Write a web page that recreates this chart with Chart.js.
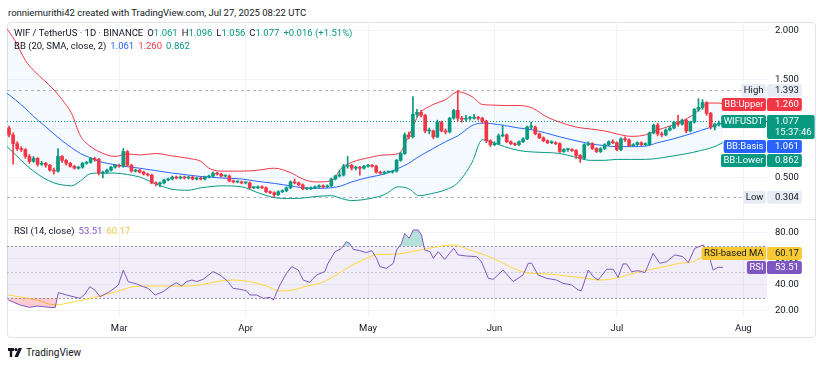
<!DOCTYPE html>
<html>
<head>
<meta charset="utf-8">
<script src="https://cdn.jsdelivr.net/npm/chart.js@4.4.1/dist/chart.umd.min.js"></script>
<style>
    body { margin: 0; background: #fff; width: 825px; height: 366px; overflow: hidden; position: relative;
           font-family: Roboto, sans-serif; color: #131722; }
    .txt { position: absolute; white-space: nowrap; font-size: 9.5px; line-height: 13px; z-index: 5; }
    .txt span { margin-left: 4px; }
    .txt b { font-weight: normal; }
    .box { position: absolute; }
    #frame { position: absolute; left: 7px; top: 22px; width: 809px; height: 316px; box-sizing: border-box;
             border: 1px solid #e0e3eb; border-radius: 4px; }
    #sep { position: absolute; left: 7px; top: 219px; width: 809px; height: 1px; background: #e0e3eb; }
    .g { color: #089981; } .r { color: #F23645; } .b { color: #2962FF; } .p { color: #7E57C2; } .y { color: #f2c94c; }
</style>
</head>
<body>
<div class="txt" style="left:8px;top:6px;">ronniemurithi42 created with TradingView.com, Jul 27, 2025 08:22 UTC</div>
<div id="frame"></div>
<div class="box" style="left:7px;top:22px;width:809px;height:196px;"><canvas id="price-chart"></canvas></div>
<div id="sep"></div>
<div class="box" style="left:7px;top:220px;width:809px;height:118px;"><canvas id="rsi-chart"></canvas></div>
<div class="txt" style="left:14px;top:26px;">WIF / TetherUS · 1D · BINANCE<span>O<b class="g">1.061</b></span><span>H<b class="g">1.096</b></span><span>L<b class="g">1.056</b></span><span>C<b class="g">1.077</b></span><span class="g">+0.016 (+1.51%)</span></div>
<div class="txt" style="left:14px;top:39px;">BB (20, SMA, close, 2)<span class="b">1.061</span><span class="r">1.260</span><span class="g">0.862</span></div>
<div class="txt" style="left:14px;top:224px;">RSI (14, close)<span class="p">53.51</span><span class="y">60.17</span></div>
<div class="txt" style="left:8px;top:346px;font-size:10px;">
    <svg width="15" height="9" style="vertical-align:-1px;margin-right:3px;"><path d="M0 0h6v3H4.2v6H1.8V3H0z" fill="#131722"/><circle cx="8" cy="1.6" r="1.6" fill="#131722"/><path d="M10.5 0h3.5l-4 9H6.5z" fill="#131722"/></svg>TradingView
</div>
<script>
// Daily candles, day 1 = Feb 2 2025 (day 0 = Feb 1)
const firstDay = 1;
const opens = [
    1.01,0.94,0.85,0.80,0.79,0.72,0.67,0.70,0.64,0.65, 0.63,0.58,0.57,0.72,0.68,0.65,0.62,0.60,0.61,0.65,
    0.66,0.70,0.69,0.55,0.56,0.58,0.61,0.63,0.62,0.77, 0.63,0.57,0.58,0.56,0.54,0.53,0.45,0.44,0.45,0.48,
    0.49,0.51,0.50,0.51,0.50,0.51,0.49,0.50,0.49,0.51, 0.52,0.55,0.54,0.52,0.52,0.47,0.46,0.46,0.45,0.45,
    0.40,0.40,0.41,0.40,0.36,0.35,0.33,0.36,0.37,0.40, 0.46,0.45,0.43,0.39,0.39,0.40,0.41,0.42,0.41,0.42,
    0.49,0.52,0.53,0.62,0.63,0.60,0.61,0.60,0.62,0.63, 0.62,0.56,0.55,0.56,0.56,0.57,0.68,0.75,0.94,0.92,
    1.15,1.17,1.14,0.98,0.98,0.92,1.07,0.98,0.97,1.11, 1.19,1.11,1.10,1.11,1.11,1.12,1.11,1.08,0.88,0.84,
    0.85,0.93,0.94,0.87,0.85,0.84,0.87,0.90,1.02,1.02, 0.95,0.91,0.88,0.86,0.86,0.85,0.77,0.79,0.79,0.78,
    0.73,0.70,0.84,0.85,0.80,0.77,0.80,0.84,0.87,0.86, 0.79,0.90,0.89,0.83,0.84,0.86,0.84,0.84,0.96,1.04,
    0.95,0.94,0.99,1.01,1.07,1.05,1.09,0.98,1.07,1.20, 1.22,1.27,1.16,1.02,1.05,1.061
];
const highs = [
    1.03,0.96,0.87,0.82,0.80,0.74,0.72,0.71,0.67,0.66, 0.64,0.60,0.80,0.73,0.69,0.66,0.63,0.62,0.66,0.67,
    0.71,0.71,0.70,0.57,0.59,0.62,0.64,0.64,0.80,0.78, 0.64,0.59,0.59,0.57,0.55,0.54,0.46,0.46,0.49,0.50,
    0.52,0.52,0.52,0.52,0.52,0.52,0.51,0.51,0.52,0.53, 0.56,0.56,0.55,0.53,0.53,0.48,0.47,0.47,0.46,0.46,
    0.41,0.42,0.42,0.41,0.37,0.36,0.37,0.38,0.41,0.47, 0.49,0.46,0.44,0.40,0.41,0.42,0.43,0.43,0.43,0.50,
    0.53,0.58,0.64,0.72,0.64,0.62,0.62,0.63,0.64,0.64, 0.63,0.57,0.57,0.57,0.58,0.69,0.76,0.96,0.97,1.33,
    1.20,1.19,1.15,1.01,0.99,1.09,1.08,1.00,1.12,1.20, 1.393,1.13,1.14,1.13,1.15,1.13,1.12,1.09,0.89,0.87,
    0.95,1.04,0.95,0.88,0.86,0.88,0.91,1.03,1.07,1.03, 0.96,0.92,0.89,0.88,0.87,0.86,0.80,0.80,0.80,0.79,
    0.74,0.85,0.87,0.86,0.81,0.81,0.85,0.88,0.89,0.87, 0.91,0.92,0.90,0.85,0.87,0.87,0.86,0.97,1.05,1.06,
    0.97,1.00,1.03,1.08,1.14,1.10,1.10,1.08,1.21,1.31, 1.30,1.28,1.17,1.06,1.08,1.096
];
const lows = [
    0.92,0.64,0.78,0.77,0.70,0.65,0.66,0.62,0.63,0.61, 0.57,0.54,0.56,0.66,0.63,0.61,0.59,0.59,0.60,0.64,
    0.65,0.67,0.53,0.50,0.55,0.57,0.60,0.61,0.61,0.62, 0.56,0.56,0.55,0.53,0.52,0.44,0.42,0.41,0.44,0.47,
    0.48,0.49,0.49,0.49,0.49,0.48,0.48,0.48,0.48,0.50, 0.51,0.53,0.51,0.51,0.46,0.45,0.45,0.44,0.44,0.39,
    0.39,0.39,0.39,0.35,0.34,0.304,0.32,0.35,0.36,0.39, 0.44,0.42,0.38,0.38,0.38,0.39,0.40,0.40,0.40,0.41,
    0.48,0.51,0.52,0.60,0.58,0.58,0.53,0.59,0.61,0.61, 0.55,0.54,0.54,0.55,0.55,0.56,0.67,0.74,0.90,0.91,
    1.12,1.12,0.96,0.95,0.90,0.91,0.97,0.95,0.96,1.10, 1.08,1.07,1.08,1.09,1.10,1.09,1.06,0.86,0.82,0.83,
    0.84,0.92,0.86,0.84,0.83,0.83,0.86,0.89,1.00,0.94, 0.90,0.87,0.85,0.85,0.84,0.76,0.76,0.77,0.77,0.70,
    0.66,0.69,0.83,0.79,0.76,0.76,0.79,0.83,0.85,0.78, 0.78,0.87,0.82,0.82,0.83,0.83,0.83,0.83,0.95,0.93,
    0.92,0.93,0.98,1.00,1.03,1.04,0.96,0.97,1.06,1.18, 1.20,1.14,1.00,0.99,1.03,1.056
];
const closes = [
    0.94,0.85,0.80,0.79,0.72,0.67,0.70,0.64,0.65,0.63, 0.58,0.57,0.72,0.68,0.65,0.62,0.60,0.61,0.65,0.66,
    0.70,0.69,0.55,0.56,0.58,0.61,0.63,0.62,0.77,0.63, 0.57,0.58,0.56,0.54,0.53,0.45,0.44,0.45,0.48,0.49,
    0.51,0.50,0.51,0.50,0.51,0.49,0.50,0.49,0.51,0.52, 0.55,0.54,0.52,0.52,0.47,0.46,0.46,0.45,0.45,0.40,
    0.40,0.41,0.40,0.36,0.35,0.33,0.36,0.37,0.40,0.46, 0.45,0.43,0.39,0.39,0.40,0.41,0.42,0.41,0.42,0.49,
    0.52,0.53,0.62,0.63,0.60,0.61,0.60,0.62,0.63,0.62, 0.56,0.55,0.56,0.56,0.57,0.68,0.75,0.94,0.92,1.15,
    1.17,1.14,0.98,0.98,0.92,1.07,0.98,0.97,1.11,1.19, 1.11,1.10,1.11,1.11,1.12,1.11,1.08,0.88,0.84,0.85,
    0.93,0.94,0.87,0.85,0.84,0.87,0.90,1.02,1.02,0.95, 0.91,0.88,0.86,0.86,0.85,0.77,0.79,0.79,0.78,0.73,
    0.70,0.84,0.85,0.80,0.77,0.80,0.84,0.87,0.86,0.79, 0.90,0.89,0.83,0.84,0.86,0.84,0.84,0.96,1.04,0.95,
    0.94,0.99,1.01,1.07,1.05,1.09,0.98,1.07,1.20,1.22, 1.27,1.16,1.02,1.05,1.061,1.077
];

// Bollinger bands (20, 2)
const bbDays = [0,2.5,5,7,9.5,12,14,16.3,18.5,20.7, 23,27,30,33,37,41,45,48,50,53, 58,62,66,70,73,76,80,82.5,85,89.5,
    93,96.5,99,101.5,104.5,108,111,114.5,117,119, 122.5,126,129.5,132.5,136,140,143.5,147,150,153.5, 157,160,163,166,168.5,170.5,172.5,174.5,176];
const bbUpper = [2.05,1.90,1.70,1.60,1.50,1.40,1.30,1.16,0.93,0.83, 0.77,0.72,0.745,0.735,0.75,0.725,0.70,0.67,0.60,0.57,
    0.57,0.58,0.60,0.555,0.49,0.46,0.47,0.60,0.66,0.71, 0.735,0.75,0.93,1.15,1.24,1.30,1.38,1.33,1.25,1.245,
    1.24,1.24,1.21,1.13,1.07,1.02,1.00,0.98,0.95,0.925, 0.94,0.99,1.03,1.08,1.14,1.21,1.265,1.265,1.26];
const bbBasis = [1.38,1.30,1.21,1.13,1.04,0.95,0.88,0.81,0.75,0.71, 0.67,0.635,0.615,0.60,0.575,0.55,0.53,0.515,0.51,0.50,
    0.49,0.465,0.445,0.42,0.40,0.395,0.40,0.42,0.46,0.51, 0.54,0.60,0.65,0.72,0.79,0.87,0.93,1.035,1.06,1.055,
    1.035,1.01,0.99,0.96,0.92,0.88,0.85,0.83,0.82,0.82, 0.825,0.86,0.89,0.925,0.955,0.985,1.01,1.04,1.061];
const bbLower = [0.84,0.74,0.64,0.57,0.50,0.45,0.43,0.42,0.47,0.54, 0.55,0.55,0.535,0.51,0.44,0.385,0.375,0.40,0.41,0.42,
    0.41,0.35,0.30,0.29,0.295,0.31,0.32,0.29,0.27,0.29, 0.33,0.41,0.39,0.32,0.34,0.38,0.45,0.66,0.89,0.87,
    0.82,0.78,0.765,0.76,0.75,0.71,0.68,0.68,0.69,0.69, 0.69,0.70,0.72,0.74,0.76,0.78,0.80,0.83,0.862];

// RSI (14) and its moving average
const rsiDays = [0.8,3.7,6.1,7.8,9.4,11,12.3,13.1,15.1,18.4, 19.6,20.8,22,23.3,25.7,27.8,29,30.2,32.3,33.9,
    35.1,36.8,38.8,40.4,42,43.3,44.5,45.8,47,48.6, 51,52.7,54.7,55.9,57.6,59.2,60,61.7,63.3,65,
    65.8,67.4,69,70.3,71.9,73.1,74.7,76.4,78.4,79.2, 80.9,82.5,83.7,84.5,85.4,87,88.6,89.9,91.1,91.9,
    93.5,95.2,96,97.2,98,99.1,100.1,101.3,102.1,102.9, 104.2,105,106.2,107.8,109,110,111.1,113.1,115.6,116.8,
    118.5,119.7,122.1,124.6,127,128.3,129.1,130.7,132.8,135.2, 136.8,138.9,140.5,141.3,143,144.2,145.4,147.5,149.1,150.3,
    151.5,152.4,153.6,155.2,156.9,158.9,160.5,162.2,164.2,166.2, 167.5,169.1,171.2,172.4,173.6,174.8,176];
const rsiValues = [28.5,24.6,22.8,23.8,23.3,22.8,22.6,34.1,32.3,29.7, 33,38.7,36.2,31,34.9,40,51.5,42.6,40.8,38.7,
    37.4,32.3,34.9,38.7,41.8,39.2,42.6,43.8,42.6,44.4, 50.3,47.7,42.6,37.4,36.7,35.6,32.3,32.3,29.7,30.5,
    28.5,40,49,54.1,51.5,43.8,42.1,47.7,50.3,56.7, 65.6,68.2,73.3,72,67.4,66.4,64.9,66.4,60.5,54.1,
    52.8,56.7,66.9,72,79.7,75.9,82.3,82.3,78.5,66.9, 65.6,60.5,65.6,59.7,64.4,68.2,63.1,62.3,61.8,57.9,
    45.1,44.4,51.5,42.6,47.7,56.7,56.7,47.7,45.1,43.8, 41.3,40,36.2,35.6,51.5,46.4,43.8,52.1,52.1,45.9,
    56.2,56.2,50.3,51,49.5,64.4,56.7,57.9,63.1,61.8, 57.2,68.2,70.8,64.4,51.5,53.6,53.51];
const rsiMaDays = [0.8,7.8,12.3,15.1,19.2,23.3,27.4,31.5,35.5,43.7, 47.8,51.9,55.9,60,64.1,67.4,70.7,74,77.2,80.5,
    84.5,88.6,91.5,95.2,101.7,109.9,114,119.7,123.8,127.8, 132.8,137.7,142.6,145.8,150.7,155.6,160.5,165.4,168.7,172,176];
const rsiMaValues = [32.3,28.5,24.6,25.9,28.5,31.5,34.9,38.7,39.2,39.2, 40,42.6,43.8,42.6,39.2,35.4,36.2,39.2,41.3,46.4,
    54.1,60.5,63.6,63.6,66.9,70.8,66.9,60.5,54.1,49.5, 48.5,46.9,45.1,43.8,45.9,50.3,53.3,56.7,57.9,62.3,60.17];
const rsiLevels = [70, 50, 30];

// Axis ticks
const monthTicks = [28, 59, 89, 120, 150, 181];
const monthLabels = ['Mar', 'Apr', 'May', 'Jun', 'Jul', 'Aug'];
const priceTicks = [0.5, 1.0, 1.5, 2.0];
const rsiTicks = [20, 40, 60, 80];

// Price scale tags
const priceTagNames = ['High', 'BB:Upper', 'WIFUSDT', 'BB:Basis', 'BB:Lower', 'Low'];
const priceTagValues = [1.393, 1.260, 1.077, 1.061, 0.862, 0.304];
const countdown = '15:37:46';
const rsiTagNames = ['RSI-based MA', 'RSI'];
const rsiTagValues = [60.17, 53.51];

const UP = '#089981', DOWN = '#F23645', BLUE = '#2962FF', PURPLE = '#7E57C2', YELLOW = '#FDD835';
const GRID = '#f0f3fa';
const FONT = '9.5px Roboto, sans-serif';
const AXIS_W = 49;
const xMin = 0.5, xMax = 186.8;

Chart.defaults.font.family = 'Roboto, sans-serif';
Chart.defaults.font.size = 9.5;
Chart.defaults.color = '#131722';

function roundBox(ctx, x, y, w, h) {
    ctx.beginPath();
    ctx.roundRect(x, y, w, h, 2);
    ctx.fill();
}

// Horizontal level lines and the RSI background band
const levelPlugin = {
    id: 'levels',
    beforeDatasetsDraw(chart, args, opts) {
        let {ctx, chartArea: area, scales: {y}} = chart;
        ctx.save();
        if (opts.band) {
            let y1 = y.getPixelForValue(opts.band[0]), y2 = y.getPixelForValue(opts.band[1]);
            ctx.fillStyle = opts.bandColor;
            ctx.fillRect(area.left, y1, area.width, y2 - y1);
        }
        opts.lines.forEach(line => {
            let py = Math.round(y.getPixelForValue(line.value)) + 0.5;
            ctx.strokeStyle = line.color;
            ctx.lineWidth = 1;
            ctx.setLineDash(line.dash);
            ctx.beginPath();
            ctx.moveTo(area.left, py);
            ctx.lineTo(area.right, py);
            ctx.stroke();
        });
        ctx.restore();
    }
};

// Coloured name/value tags on the price scale, pushed apart when they collide
const tagPlugin = {
    id: 'valueTags',
    afterDraw(chart, args, opts) {
        let {ctx, chartArea: area, scales: {y}} = chart;
        ctx.save();
        ctx.font = FONT;
        ctx.textBaseline = 'middle';
        let tags = opts.names.map((name, i) => ({
            name,
            style: opts.styles[i],
            text: opts.values[i].toFixed(opts.decimals),
            h: opts.styles[i].sub ? 24 : 13,
            top: y.getPixelForValue(opts.values[i]) - 6.5
        }));
        if (opts.push === 'down') {
            tags.sort((a, b) => a.top - b.top);
            for (let i = 1; i < tags.length; i++)
                tags[i].top = Math.max(tags[i].top, tags[i - 1].top + tags[i - 1].h + 1);
        } else {
            tags.sort((a, b) => b.top - a.top);
            for (let i = 1; i < tags.length; i++)
                tags[i].top = Math.min(tags[i].top, tags[i - 1].top - tags[i].h - 1);
        }
        tags.forEach(t => {
            let sub = t.style.sub ? opts.sub : null;
            let vw = Math.max(ctx.measureText(t.text).width, sub ? ctx.measureText(sub).width : 0) + 11;
            let nw = ctx.measureText(t.name).width + 5;
            ctx.fillStyle = t.style.bg;
            roundBox(ctx, area.right, t.top, vw, t.h);
            roundBox(ctx, area.right - 1 - nw, t.top, nw, 13);
            ctx.fillStyle = t.style.fg;
            ctx.textAlign = 'left';
            ctx.fillText(t.text, area.right + 8, t.top + 7);
            if (sub) ctx.fillText(sub, area.right + 8, t.top + 18);
            ctx.textAlign = 'center';
            ctx.fillText(t.name, area.right - 1 - nw / 2, t.top + 7);
        });
        ctx.restore();
    }
};

function timeAxis(showLabels) {
    return {
        type: 'linear',
        min: xMin,
        max: xMax,
        offset: false,
        afterBuildTicks: scale => { scale.ticks = monthTicks.map(v => ({value: v})); },
        afterFit: scale => {
            scale.height = showLabels ? 20 : 0;
            scale.paddingLeft = 0;
            scale.paddingRight = 0;
        },
        grid: {color: GRID, drawTicks: false, offset: false},
        border: {display: false},
        ticks: {
            display: showLabels,
            padding: 5,
            maxRotation: 0,
            callback: (value, index) => monthLabels[index]
        }
    };
}

function valueAxis(min, max, ticks, decimals) {
    return {
        position: 'right',
        min: min,
        max: max,
        afterBuildTicks: scale => { scale.ticks = ticks.map(v => ({value: v})); },
        afterFit: scale => {
            scale.width = AXIS_W;
            scale.paddingTop = 0;
            scale.paddingBottom = 0;
        },
        grid: {color: GRID, drawTicks: false},
        border: {display: false},
        ticks: {padding: 8, callback: value => value.toFixed(decimals)}
    };
}

let candleColors = closes.map((c, i) => c >= opens[i] ? UP : DOWN);
let points = (days, values) => values.map((v, i) => ({x: days[i], y: v}));

new Chart(document.getElementById('price-chart'), {
    type: 'bar',
    data: {
        datasets: [{
            label: 'body',
            data: opens.map((o, i) => ({x: firstDay + i, y: [o, closes[i]]})),
            backgroundColor: candleColors,
            barThickness: 3,
            minBarLength: 1,
            grouped: false,
            order: 0
        }, {
            label: 'wick',
            data: lows.map((l, i) => ({x: firstDay + i, y: [l, highs[i]]})),
            backgroundColor: candleColors,
            barThickness: 1,
            grouped: false,
            order: 1
        }, {
            type: 'line',
            label: 'BB Upper',
            data: points(bbDays, bbUpper),
            borderColor: DOWN,
            borderWidth: 1,
            backgroundColor: 'rgba(33,150,243,0.05)',
            fill: '+2',
            pointRadius: 0,
            cubicInterpolationMode: 'monotone',
            order: 2
        }, {
            type: 'line',
            label: 'BB Basis',
            data: points(bbDays, bbBasis),
            borderColor: BLUE,
            borderWidth: 1,
            pointRadius: 0,
            cubicInterpolationMode: 'monotone',
            order: 2
        }, {
            type: 'line',
            label: 'BB Lower',
            data: points(bbDays, bbLower),
            borderColor: UP,
            borderWidth: 1,
            pointRadius: 0,
            cubicInterpolationMode: 'monotone',
            order: 2
        }]
    },
    options: {
        animation: false,
        responsive: true,
        maintainAspectRatio: false,
        layout: {padding: 0},
        scales: {
            x: timeAxis(false),
            y: valueAxis(0.0918, 2.0918, priceTicks, 3)
        },
        plugins: {
            legend: {display: false},
            tooltip: {enabled: false},
            levels: {
                lines: [
                    {value: priceTagValues[0], color: '#b2b5be', dash: [3, 3]},
                    {value: priceTagValues[5], color: '#b2b5be', dash: [3, 3]},
                    {value: priceTagValues[2], color: UP, dash: [1, 2]}
                ]
            },
            valueTags: {
                names: priceTagNames,
                values: priceTagValues,
                decimals: 3,
                sub: countdown,
                push: 'down',
                styles: [
                    {bg: '#e8edf5', fg: '#131722'},
                    {bg: DOWN, fg: '#fff'},
                    {bg: UP, fg: '#fff', sub: true},
                    {bg: BLUE, fg: '#fff'},
                    {bg: UP, fg: '#fff'},
                    {bg: '#e8edf5', fg: '#131722'}
                ]
            }
        }
    },
    plugins: [levelPlugin, tagPlugin]
});

new Chart(document.getElementById('rsi-chart'), {
    type: 'line',
    data: {
        datasets: [{
            label: 'overbought',
            data: points(rsiDays, rsiValues),
            borderColor: 'transparent',
            borderWidth: 0,
            pointRadius: 0,
            fill: {target: {value: rsiLevels[0]}, above: 'rgba(8,153,129,0.3)', below: 'transparent'},
            order: 2
        }, {
            label: 'RSI',
            data: points(rsiDays, rsiValues),
            borderColor: PURPLE,
            borderWidth: 1,
            pointRadius: 0,
            fill: {target: {value: rsiLevels[2]}, above: 'transparent', below: 'rgba(242,54,69,0.25)'},
            order: 0
        }, {
            label: 'RSI-based MA',
            data: points(rsiMaDays, rsiMaValues),
            borderColor: YELLOW,
            borderWidth: 1,
            pointRadius: 0,
            cubicInterpolationMode: 'monotone',
            order: 1
        }]
    },
    options: {
        animation: false,
        responsive: true,
        maintainAspectRatio: false,
        layout: {padding: 0},
        scales: {
            x: timeAxis(true),
            y: valueAxis(14.6, 90, rsiTicks, 2)
        },
        plugins: {
            legend: {display: false},
            tooltip: {enabled: false},
            levels: {
                band: [rsiLevels[0], rsiLevels[2]],
                bandColor: 'rgba(126,87,194,0.1)',
                lines: [
                    {value: rsiLevels[0], color: '#9598a1', dash: [2, 2]},
                    {value: rsiLevels[1], color: 'rgba(149,152,161,0.5)', dash: [2, 2]},
                    {value: rsiLevels[2], color: '#9598a1', dash: [2, 2]}
                ]
            },
            valueTags: {
                names: rsiTagNames,
                values: rsiTagValues,
                decimals: 2,
                push: 'up',
                styles: [
                    {bg: '#f7c935', fg: '#131722'},
                    {bg: PURPLE, fg: '#fff'}
                ]
            }
        }
    },
    plugins: [levelPlugin, tagPlugin]
});
</script>
</body>
</html>
